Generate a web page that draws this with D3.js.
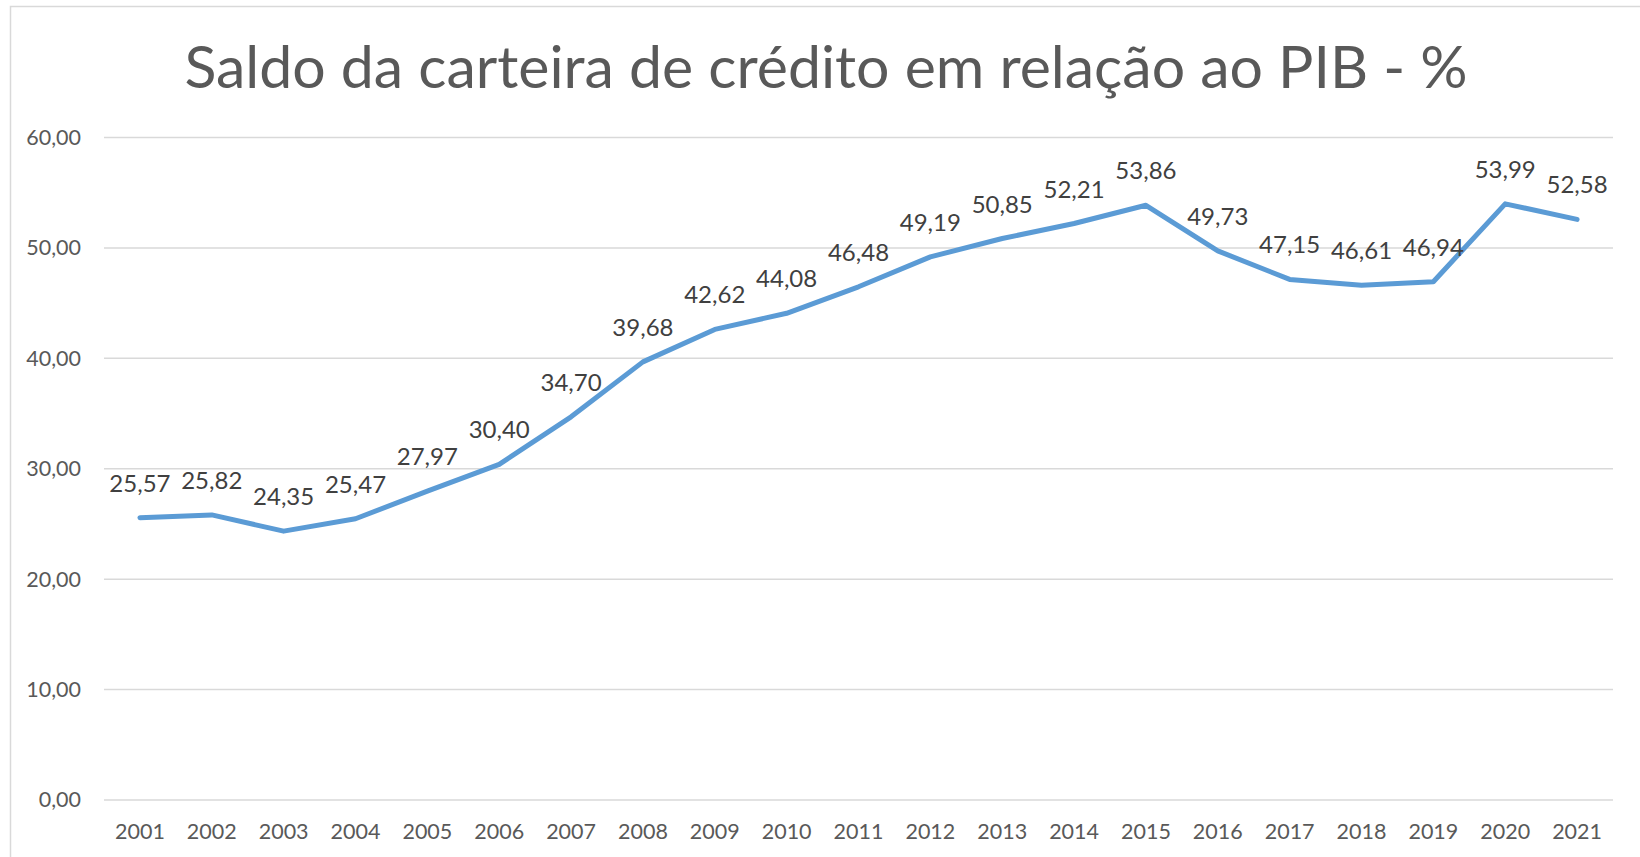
<!DOCTYPE html>
<html>
<head>
<meta charset="utf-8">
<script src="https://cdn.jsdelivr.net/npm/d3@7"></script>
<style>
  body { margin: 0; background: #fff; }
  svg { display: block; font-family: Lato, "Open Sans", sans-serif; }
</style>
</head>
<body>
<svg id="chart" width="1640" height="857"></svg>
<script>
var years = ["2001", "2002", "2003", "2004", "2005", "2006", "2007", "2008", "2009", "2010",
  "2011", "2012", "2013", "2014", "2015", "2016", "2017", "2018", "2019", "2020", "2021"];
var saldo = [25.57, 25.82, 24.35, 25.47, 27.97, 30.40, 34.70, 39.68, 42.62, 44.08,
  46.48, 49.19, 50.85, 52.21, 53.86, 49.73, 47.15, 46.61, 46.94, 53.99, 52.58];
var yTicks = [0, 10, 20, 30, 40, 50, 60];
var title = "Saldo da carteira de crédito em relação ao PIB - %";

var svg = d3.select("#chart");

// chart area border
svg.append("rect")
  .attr("x", 10.5).attr("y", 6.5)
  .attr("width", 1640).attr("height", 870)
  .attr("fill", "none")
  .attr("stroke", "#d9d9d9")
  .attr("stroke-width", 1.5);

var plotLeft = 104, plotRight = 1613, plotTop = 137.5, plotBottom = 800;

var xScale = d3.scaleBand().domain(years).range([plotLeft, plotRight]);
var yScale = d3.scaleLinear().domain([0, 60]).range([plotBottom, plotTop]);

var fmt = function (v) {
  return d3.format(".2f")(v).replace(".", ",");
};

// gridlines
svg.append("g")
  .selectAll("line")
  .data(yTicks)
  .enter()
  .append("line")
  .attr("x1", plotLeft).attr("x2", plotRight)
  .attr("y1", function (d) { return yScale(d); })
  .attr("y2", function (d) { return yScale(d); })
  .attr("stroke", "#d9d9d9")
  .attr("stroke-width", 1.5);

// y axis labels
var yAxis = d3.axisLeft(yScale).tickValues(yTicks).tickSize(0).tickPadding(23).tickFormat(fmt);
var gy = svg.append("g").attr("transform", "translate(" + plotLeft + ",0)").call(yAxis);
gy.select(".domain").remove();
gy.selectAll("text")
  .attr("font-family", "Lato, 'Open Sans', sans-serif")
  .attr("font-size", 21.5)
  .attr("fill", "#595959");

// x axis labels
var xAxis = d3.axisBottom(xScale).tickSize(0).tickPadding(24);
var gx = svg.append("g").attr("transform", "translate(0," + plotBottom + ")").call(xAxis);
gx.select(".domain").remove();
gx.selectAll("text")
  .attr("font-family", "Lato, 'Open Sans', sans-serif")
  .attr("font-size", 21.5)
  .attr("fill", "#595959");

// line
var line = d3.line()
  .x(function (d, i) { return xScale(years[i]) + xScale.bandwidth() / 2; })
  .y(function (d) { return yScale(d); });

svg.append("path")
  .datum(saldo)
  .attr("d", line)
  .attr("fill", "none")
  .attr("stroke", "#5b9bd5")
  .attr("stroke-width", 5)
  .attr("stroke-linejoin", "round")
  .attr("stroke-linecap", "round");

// data labels
svg.append("g")
  .selectAll("text")
  .data(saldo)
  .enter()
  .append("text")
  .attr("x", function (d, i) { return xScale(years[i]) + xScale.bandwidth() / 2; })
  .attr("y", function (d) { return yScale(d) - 26; })
  .attr("text-anchor", "middle")
  .attr("font-size", 24)
  .attr("fill", "#404040")
  .text(fmt);

// title
svg.append("text")
  .attr("x", 826)
  .attr("y", 88)
  .attr("text-anchor", "middle")
  .attr("font-size", 59)
  .attr("fill", "#595959")
  .text(title);
</script>
</body>
</html>
